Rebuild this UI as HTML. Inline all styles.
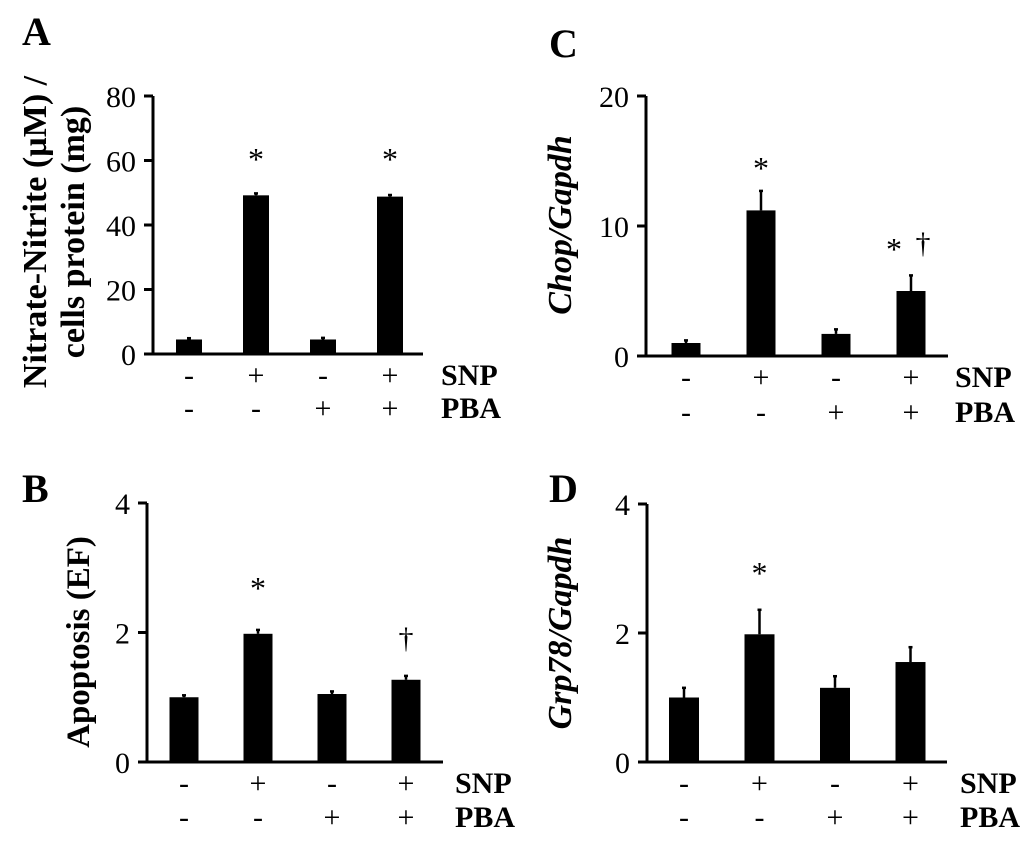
<!DOCTYPE html>
<html><head><meta charset="utf-8"><style>
html,body{margin:0;padding:0;background:#fff;}
svg{display:block;font-family:"Liberation Serif",serif;}
</style></head><body>
<svg id="fig" width="1033" height="844" viewBox="0 0 1033 844" xmlns="http://www.w3.org/2000/svg"></svg>
<script>
const NS="http://www.w3.org/2000/svg";
const svg=document.getElementById('fig');
// data
const snpRow=["-","+","-","+"];
const pbaRow=["-","-","+","+"];
const aValues=[4.5,49.2,4.5,48.8];
const aErrors=[0.4,0.6,0.5,0.5];
const aTicks=[0,20,40,60,80];
const bValues=[1.0,1.98,1.05,1.27];
const bErrors=[0.03,0.06,0.04,0.06];
const bTicks=[0,2,4];
const cValues=[1.0,11.2,1.7,5.0];
const cErrors=[0.2,1.5,0.35,1.2];
const cTicks=[0,10,20];
const dValues=[1.0,1.98,1.15,1.55];
const dErrors=[0.15,0.38,0.18,0.23];
const dTicks=[0,2,4];

function el(tag,attrs,parent){const e=document.createElementNS(NS,tag);for(const k in attrs)e.setAttribute(k,attrs[k]);(parent||svg).appendChild(e);return e;}
function txt(s,attrs,parent){const e=el('text',attrs,parent);e.textContent=s;return e;}

function panel(p){
  const g=el('g',{});
  
  
  const max=p.ticks[p.ticks.length-1];
  const y=v=>p.y0-(v/max)*(p.y0-p.yTop);
  const x=i=>p.c0+i*p.step;
  const lt=txt(p.id,{x:p.lx,y:p.ly,'font-size':40,'font-weight':'bold'},g);
  
  const ya=el('line',{x1:p.ax,y1:p.yTop,x2:p.ax,y2:p.y0,stroke:'#000','stroke-width':3},g);
  
  const xa=el('line',{x1:p.ax-9,y1:p.y0,x2:p.xEnd,y2:p.y0,stroke:'#000','stroke-width':3},g);
  
  p.ticks.forEach(t=>{
    const tk=el('line',{x1:p.ax-9,y1:y(t),x2:p.ax,y2:y(t),stroke:'#000','stroke-width':3},g);
    
    const tl=txt(String(t),{x:p.ax-17,y:y(t)+11,'font-size':30,'text-anchor':'end'},g);
    
  });
  p.values.forEach((v,i)=>{
    const eb=el('line',{x1:x(i),y1:y(v),x2:x(i),y2:y(v+p.errors[i]),stroke:'#000','stroke-width':2.5},g);
    
    const cap=el('line',{x1:x(i)-2,y1:y(v+p.errors[i]),x2:x(i)+2,y2:y(v+p.errors[i]),stroke:'#000','stroke-width':2.5},g);
    
    const b=el('rect',{x:x(i)-p.bw/2,y:y(v),width:p.bw,height:p.y0-y(v),fill:'#000'},g);
    
    const s=txt(snpRow[i],{x:x(i),y:p.r1,'font-size':30,'text-anchor':'middle'},g);
    
    const q=txt(pbaRow[i],{x:x(i),y:p.r2,'font-size':30,'text-anchor':'middle'},g);
    
  });
  const sl=txt('SNP',{x:p.labX,y:p.r1,'font-size':30,'font-weight':'bold'},g);
  
  const pl=txt('PBA',{x:p.labX,y:p.r2,'font-size':30,'font-weight':'bold'},g);
  
  p.marks.forEach(m=>{
    const mk=txt(m.s,{x:x(m.i)+(m.dx||0),y:m.y,'font-size':m.s==='*'?32:30,'text-anchor':'middle'},g);
    
    
  });
  const yl=el('text',{transform:`translate(${p.ylx},${p.yly}) rotate(-90)`,'font-size':p.yfs,'font-weight':'bold','text-anchor':'middle'},g);
  
  p.ylab(yl);
}
function tspan(parent,s,attrs){const t=el('tspan',attrs||{},parent);t.textContent=s;return t;}

panel({id:'A',lx:22,ly:45,ax:153,yTop:96,y0:354,xEnd:423,c0:189,step:67,bw:26,values:aValues,errors:aErrors,ticks:aTicks,r1:385,r2:418,labX:441,
 marks:[{i:1,s:'*',y:170},{i:3,s:'*',y:170}],ylx:46,yly:232,yfs:34,
 ylab:t=>{tspan(t,'Nitrate-Nitrite (µM) /',{x:0,dy:0});tspan(t,'cells protein (mg)',{x:0,dy:38});}});
panel({id:'B',lx:22,ly:502,ax:147,yTop:503,y0:762,xEnd:443,c0:184,step:74,bw:29,values:bValues,errors:bErrors,ticks:bTicks,r1:793,r2:827,labX:455,
 marks:[{i:1,s:'*',y:599},{i:3,s:'†',y:648}],ylx:89,yly:642,yfs:33,
 ylab:t=>{tspan(t,'Apoptosis (EF)');}});
panel({id:'C',lx:549,ly:57,ax:646,yTop:96,y0:356,xEnd:948,c0:686,step:75,bw:29,values:cValues,errors:cErrors,ticks:cTicks,r1:387,r2:422,labX:955,
 marks:[{i:1,s:'*',y:179},{i:3,s:'*',y:260,dx:-17},{i:3,s:'†',y:253,dx:12}],ylx:571,yly:225,yfs:34,
 ylab:t=>{tspan(t,'Chop/Gapdh',{'font-style':'italic'});}});
panel({id:'D',lx:549,ly:502,ax:647,yTop:504,y0:762,xEnd:947,c0:684,step:75.5,bw:30,values:dValues,errors:dErrors,ticks:dTicks,r1:793,r2:827,labX:960,
 marks:[{i:1,s:'*',y:584}],ylx:571,yly:633,yfs:34,
 ylab:t=>{tspan(t,'Grp78/Gapdh',{'font-style':'italic'});}});
</script>
</body></html>
